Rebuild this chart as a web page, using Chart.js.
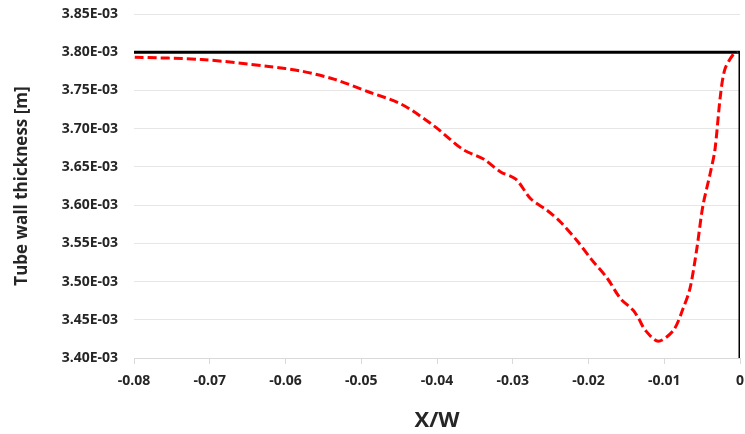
<!DOCTYPE html>
<html>
<head>
<meta charset="utf-8">
<script src="https://cdn.jsdelivr.net/npm/chart.js@4/dist/chart.umd.min.js"></script>
<style>
  html, body { margin: 0; padding: 0; background: #ffffff; }
  #wrap { width: 745px; height: 434px; position: relative; }
</style>
</head>
<body>
<div id="wrap"><canvas id="c" width="745" height="434"></canvas></div>
<script>
// Position X/W along the tube
const xPositions = [-0.0799, -0.0711, -0.0622, -0.0579, -0.0535, -0.0490, -0.0447, -0.0404, -0.0366, -0.0338,
  -0.0316, -0.0296, -0.0276, -0.0254, -0.0237, -0.0214, -0.0197, -0.0175, -0.0158, -0.0141,
  -0.0134, -0.0125, -0.0108, -0.0088, -0.0075, -0.0066, -0.0057, -0.0049, -0.0039, -0.0033,
  -0.0026, -0.0020, -0.0009, -0.0003];
// Tube wall thickness [m]
const wallThickness = [3.7935e-3, 3.7905e-3, 3.7814e-3, 3.7753e-3, 3.7645e-3, 3.748e-3, 3.732e-3, 3.7036e-3, 3.673e-3, 3.660e-3,
  3.6434e-3, 3.634e-3, 3.608e-3, 3.5926e-3, 3.578e-3, 3.552e-3, 3.530e-3, 3.504e-3, 3.478e-3, 3.4624e-3,
  3.452e-3, 3.4363e-3, 3.422e-3, 3.436e-3, 3.465e-3, 3.491e-3, 3.543e-3, 3.599e-3, 3.643e-3, 3.673e-3,
  3.742e-3, 3.7775e-3, 3.797e-3, 3.800e-3];
// Initial (nominal) wall outline
const nominalX = [-0.08, 0, 0];
const nominalY = [3.80e-3, 3.80e-3, 3.40e-3];
// Axis ticks
const xTicks = [-0.08, -0.07, -0.06, -0.05, -0.04, -0.03, -0.02, -0.01, 0];
const yTicks = [3.40e-3, 3.45e-3, 3.50e-3, 3.55e-3, 3.60e-3, 3.65e-3, 3.70e-3, 3.75e-3, 3.80e-3, 3.85e-3];

const measured = xPositions.map((x, i) => ({ x: x, y: wallThickness[i] }));
const nominal = nominalX.map((x, i) => ({ x: x, y: nominalY[i] }));

function fmtExp(v) {
  const s = Number(v).toExponential(2);
  const m = s.match(/^(-?[\d.]+)e([+-])(\d+)$/);
  if (!m) return s;
  return m[1] + 'E' + m[2] + m[3].padStart(2, '0');
}

const FONT = "'Open Sans', 'Liberation Sans', sans-serif";

new Chart(document.getElementById('c'), {
  type: 'scatter',
  data: {
    datasets: [
      {
        label: 'Nominal',
        data: nominal,
        showLine: true,
        borderColor: '#000000',
        borderWidth: 3,
        pointRadius: 0,
        tension: 0,
        order: 2
      },
      {
        label: 'Wall thickness',
        data: measured,
        showLine: true,
        borderColor: '#ff0000',
        borderWidth: 3,
        borderDash: [9, 4],
        pointRadius: 0,
        tension: 0.3,
        order: 1
      }
    ]
  },
  options: {
    responsive: false,
    animation: false,
    layout: { padding: { top: 14, right: 5, left: 0, bottom: 0 } },
    plugins: { legend: { display: false }, tooltip: { enabled: false } },
    scales: {
      x: {
        type: 'linear',
        min: -0.08,
        max: 0,
        afterBuildTicks: (s) => { s.ticks = xTicks.map(v => ({ value: v })); },
        ticks: {
          padding: 9,
          color: '#262626',
          font: { family: FONT, size: 14, weight: 'bold' },
          callback: (v) => (v === 0 ? '0' : String(Number(v.toFixed(2))))
        },
        grid: { drawOnChartArea: false, drawTicks: true, tickLength: 6, color: '#d9d9d9', lineWidth: 1 },
        border: { display: true, color: '#d9d9d9', width: 1 },
        title: {
          display: true,
          text: 'X/W',
          color: '#262626',
          font: { family: FONT, size: 22, weight: 'bold' },
          padding: { top: 0, bottom: 0 }
        },
        afterFit: (s) => { s.height = 76; s.paddingLeft = 0; s.paddingRight = 0; }
      },
      y: {
        type: 'linear',
        min: 3.40e-3,
        max: 3.85e-3,
        afterBuildTicks: (s) => { s.ticks = yTicks.map(v => ({ value: v })); },
        ticks: {
          padding: 16,
          color: '#262626',
          font: { family: FONT, size: 14, weight: 'bold' },
          callback: (v) => fmtExp(v)
        },
        grid: { color: '#e6e6e6', lineWidth: 1, drawTicks: false },
        border: { display: false },
        title: {
          display: true,
          text: 'Tube wall thickness [m]',
          color: '#262626',
          font: { family: FONT, size: 17, weight: 'bold' },
          padding: { top: 12, bottom: 0 }
        },
        afterFit: (s) => { s.width = 134; s.paddingTop = 0; s.paddingBottom = 0; }
      }
    }
  }
});
</script>
</body>
</html>
